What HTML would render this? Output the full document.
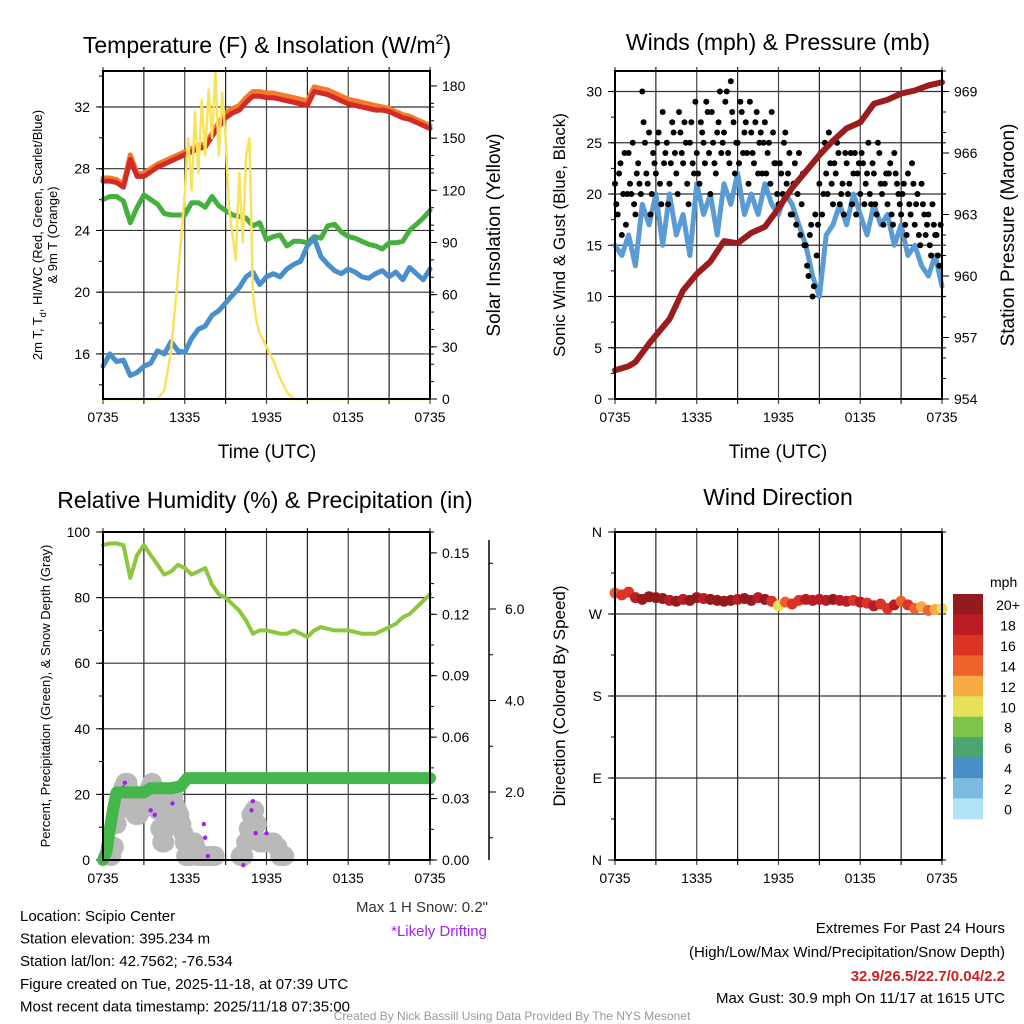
<!DOCTYPE html>
<html><head><meta charset="utf-8"><style>
body{margin:0;background:#fff}
svg{display:block;font-family:"Liberation Sans",sans-serif}
</style></head><body>
<svg id="chart" width="1024" height="1024" viewBox="0 0 1024 1024" xmlns="http://www.w3.org/2000/svg">
<rect width="1024" height="1024" fill="#fff"/>
</svg>
<script>
// ---------------- DATA ----------------
const xTickLabels = ["0735","1335","1935","0135","0735"];
const halfHours = Array.from({length:49},(_,i)=>i/2);
const tempRed = [27.2,27.2,27.1,26.8,28.6,27.5,27.5,27.8,28.1,28.3,28.5,28.7,28.9,29.1,29.3,29.4,30.1,30.7,31.3,31.6,31.8,32.3,32.7,32.7,32.6,32.6,32.5,32.4,32.3,32.2,32.1,33.0,32.9,32.8,32.6,32.4,32.2,32.1,32.0,31.9,31.8,31.8,31.7,31.5,31.3,31.2,31.0,30.8,30.6];
const temp9m  = [27.3,27.3,27.2,26.9,28.8,27.6,27.6,27.9,28.2,28.4,28.6,28.8,29.0,29.2,29.4,29.5,30.2,30.9,31.5,31.8,32.0,32.5,32.9,32.9,32.8,32.8,32.7,32.6,32.5,32.4,32.3,33.2,33.1,33.0,32.8,32.6,32.4,32.3,32.2,32.1,32.0,31.9,31.8,31.6,31.4,31.3,31.1,30.9,30.7];
const dewGreen = [26.0,26.2,26.2,25.9,24.5,25.5,26.3,26.0,25.7,25.1,25.0,25.0,25.0,25.8,25.8,25.5,26.2,25.6,25.3,25.0,24.9,24.8,24.3,24.5,23.4,23.6,23.7,23.0,23.3,23.3,23.2,23.6,23.5,24.3,24.4,23.9,23.6,23.5,23.3,23.1,23.0,22.8,23.2,23.2,23.3,24.0,24.4,24.8,25.3];
const wcBlue = [15.2,16.0,15.5,15.6,14.6,14.8,15.2,15.4,16.2,16.0,16.8,16.2,16.1,17.0,17.6,17.8,18.5,18.8,19.3,19.8,20.3,21.0,21.3,20.5,21.0,21.2,21.0,21.5,21.8,22.0,23.0,23.5,22.3,21.8,21.4,21.2,21.5,21.3,21.0,20.9,21.2,21.4,21.0,21.3,20.8,21.6,21.2,20.8,21.5];
const solarHours = [0,4,4.5,5,5.5,6,6.25,6.5,6.75,7,7.25,7.5,7.75,8,8.25,8.5,8.75,9,9.25,9.5,9.75,10,10.25,10.5,10.75,11,11.25,11.5,12,12.5,13,13.5,14,24];
const solarVals  = [0,0,5,28,70,118,150,120,165,130,172,140,178,150,188,140,176,150,110,95,80,130,90,140,150,60,45,38,30,22,12,4,0,0];
// Panel 2
const windBlue = [15,14,16,13,19,17,20,15,20,16,18,14,21,18,20,16,21,19,22,18,20,18,21,19,18,20,19,17,15,12,10,16,17,19,17,20,18,16,19,17,18,15,17,14,15,13,12,14,11];
const gustVals = [21,18,23,20,17,24,20,19,22,21,30,25,21,18,24,22,26,19,23,25,21,27,24,20,26,23,25,19,27,22,24,21,26,23,28,20,25,22,27,24,26,30,23,28,22,25,29,24,27,21,26,23,28,25,22,27,24,21,26,23,19,22,25,21,24,18,23,20,16,22,15,12,17,11,14,21,18,25,20,23,19,22,24,20,18,23,21,19,24,22,20,23,21,25,19,22,18,24,20,21,19,23,17,22,20,18,21,16,19,23,17,20,15,19,16,18,14,17,16,13];
const gustVals2 = [19,22,16,24,20,21,25,18,23,20,27,22,26,20,23,25,21,28,24,19,23,26,22,28,24,27,21,25,23,29,22,27,25,29,24,28,23,26,30,25,29,24,31,27,25,23,28,26,24,29,24,27,22,26,25,22,25,28,23,20,23,20,26,22,18,21,17,24,19,15,13,16,10,18,17,24,20,22,26,21,23,25,19,21,24,20,24,22,18,23,24,19,22,20,23,19,25,21,17,22,22,18,24,21,19,20,17,22,18,21,19,16,21,18,17,15,19,16,14,17];
const pressHours = [0,1,1.5,2.5,4,5,6,7,8,9,10,11,12,13,14,15,16,17,18,19,20,21,22,23,24];
const pressVals  = [955.4,955.6,955.8,956.7,957.9,959.3,960.1,960.7,961.7,961.6,962.1,962.4,963.3,964.3,965.1,965.9,966.6,967.2,967.5,968.4,968.6,968.9,969.05,969.3,969.45];
// Panel 3
const rhVals = [96,96.5,96.5,96,86,93,96,93,90,87,88,90,89,87,88,89,84,81,80,78,76,73,69,70,70,69.5,69,69,70,69,68,70,71,70.5,70,70,70,69.5,69,69,69,70,71,72,74,75,77,79,81];
const precipHours = [0,0.25,0.5,0.75,1,3,3.5,5,5.7,6.2,24];
const precipVals  = [0,0.004,0.015,0.025,0.033,0.033,0.035,0.035,0.036,0.04,0.04];
const snowHours = [0.6,0.8,1,1.15,1.3,1.5,1.65,1.8,2.0,2.2,2.4,2.6,2.8,3,3.15,3.3,3.45,3.6,3.75,3.9,4.05,4.2,4.35,4.5,4.6,4.7,4.85,5,5.15,5.3,5.45,5.6,5.75,5.9,6.0,6.1,6.25,6.4,6.55,6.7,6.85,7,7.2,7.4,7.6,7.8,8.0,8.2,10.1,10.3,10.5,10.7,10.9,11.1,11.3,11.5,11.8,12,12.3,12.5,12.8,13,13.3];
const snowVals  = [0.6,0.8,1.3,1.6,1.8,2.1,2.2,2.2,2.0,1.7,1.5,1.5,1.6,1.7,1.9,2.0,2.1,2.2,2.1,1.9,1.6,1.2,0.9,0.9,1.2,1.4,1.7,2.0,1.9,1.7,1.6,1.5,1.3,1.1,0.9,0.6,0.6,0.6,0.75,0.9,0.75,0.6,0.6,0.6,0.6,0.6,0.6,0.6,0.6,0.6,0.9,1.2,1.5,1.6,1.3,0.9,0.9,0.9,0.9,0.9,0.8,0.6,0.6];
const driftHours = [1.5,1.6,3.5,3.8,5.1,7.4,7.5,7.7,10.3,10.9,11.0,11.2,12.0];
const driftVals  = [2.1,2.2,1.6,1.5,1.75,1.3,1.0,0.6,0.4,1.6,1.8,1.1,1.1];
// Panel 4
const dirVals = [293,291,294,288,286,289,288,287,285,284,286,285,288,287,286,285,284,285,286,287,285,288,286,284,279,283,281,285,286,285,286,285,286,285,284,285,283,282,279,281,276,280,284,280,276,278,274,275,276];
const dirSpeed = [15,17,16,19,20,21,20,21,19,20,18,20,21,19,20,21,22,20,19,21,20,19,20,17,11,14,16,17,19,18,19,18,20,19,18,17,18,17,19,17,16,18,15,16,14,13,14,12,11];
const cbLabels = ["20+","18","16","14","12","10","8","6","4","2","0"];
const cbColors = ["#931a1d","#bb1c24","#dc3327","#f0622c","#f6ab43","#e6e159","#7ec34a","#4aa56f","#4a90c8","#7cb9e3","#b3e3f8"];

// ---------------- HELPERS ----------------
const svg = document.getElementById('chart');
const NS = "http://www.w3.org/2000/svg";
function el(tag, attrs, parent){const e=document.createElementNS(NS,tag);for(const k in attrs)e.setAttribute(k,attrs[k]);(parent||svg).appendChild(e);return e;}
function txt(s, attrs, parent){const e=el('text',attrs,parent);e.textContent=s;return e;}
function lin(d0,d1,r0,r1){return v=>r0+(v-d0)*(r1-r0)/(d1-d0);}
function speedColor(s){const i=Math.min(10,Math.max(0,Math.floor(s/2)));return cbColors[10-i];}

function panelFrame(p, name){
  const g=el('g',{});
  
  
  p.g=g;
  p.x=lin(0,24,p.x0,p.x1);
  for(let h=0;h<=24;h+=3){
    const X=p.x(h);
    const gl=el('line',{x1:X,y1:p.y0-4,x2:X,y2:p.y1+5,stroke:h%6===0?'#444':'#222','stroke-width':1.2},g);
    
    
  }
  xTickLabels.forEach((l,i)=>{
    const t=txt(l,{x:p.x(i*6),y:p.y1+23,'font-size':14,'text-anchor':'middle',fill:'#000'},g);
    
    
  });
  return g;
}
function hGrid(p, vals, yf){
  vals.forEach(v=>{
    const Y=yf(v);
    const gl=el('line',{x1:p.x0-4,y1:Y,x2:p.x1+4,y2:Y,stroke:'#333','stroke-width':1.2},p.g);
    
    
  });
}
function leftAxis(p, yf, majors, labels, minors){
  minors.forEach(v=>{const t=el('line',{x1:p.x0-4,y1:yf(v),x2:p.x0,y2:yf(v),stroke:'#000','stroke-width':1},p.g);
    
    });
  majors.forEach((v,i)=>{
    const t=el('line',{x1:p.x0-7,y1:yf(v),x2:p.x0,y2:yf(v),stroke:'#000','stroke-width':1},p.g);
    
    
    const l=txt(labels[i],{x:p.x0-13,y:yf(v)+5,'font-size':14,'text-anchor':'end'},p.g);
    
    
  });
}
function rightAxis(p, yf, majors, labels, minors, ax){
  ax=ax||p.x1;
  minors.forEach(v=>{const t=el('line',{x1:ax,y1:yf(v),x2:ax+4,y2:yf(v),stroke:'#000','stroke-width':1},p.g);
    
    });
  majors.forEach((v,i)=>{
    const t=el('line',{x1:ax,y1:yf(v),x2:ax+7,y2:yf(v),stroke:'#000','stroke-width':1},p.g);
    
    
    const l=txt(labels[i],{x:ax+12,y:yf(v)+5,'font-size':14,'text-anchor':'start'},p.g);
    
    
  });
}
function border(p){
  const r=el('rect',{x:p.x0,y:p.y0,width:p.x1-p.x0,height:p.y1-p.y0,fill:'none',stroke:'#000','stroke-width':2},p.g);
  
  
}
function poly(p, xs, ys, yf, color, w, name){
  const pts=xs.map((h,i)=>p.x(h).toFixed(1)+','+yf(ys[i]).toFixed(1)).join(' ');
  const e=el('polyline',{points:pts,fill:'none',stroke:color,'stroke-width':w,'stroke-linejoin':'round','stroke-linecap':'round'},p.g);
  
  
  return e;
}
function range(a,b,s){const r=[];for(let v=a;v<=b+1e-9;v+=s)r.push(+v.toFixed(4));return r;}
function title(s,x,y,size,name,extra){
  const t=txt(s,Object.assign({x:x,y:y,'font-size':size,'text-anchor':'middle'},extra||{}));
  
  
  return t;
}
function vtitle(s,x,y,size,name){
  const t=txt(s,{x:0,y:0,'font-size':size,'text-anchor':'middle',transform:`translate(${x},${y}) rotate(-90)`});
  
  
  return t;
}

// ---------------- PANEL 1 ----------------
const p1={x0:103,x1:430,y0:71,y1:399};
panelFrame(p1,'temperature-panel');
const y1L=lin(13.08,34.33,399,71), y1R=lin(0,188.6,399,71);
hGrid(p1,[16,20,24,28,32],y1L);
leftAxis(p1,y1L,[16,20,24,28,32],["16","20","24","28","32"],range(14,34,2));
rightAxis(p1,y1R,[0,30,60,90,120,150,180],["0","30","60","90","120","150","180"],range(0,180,10));
poly(p1,halfHours,temp9m,v=>y1L(v)-1.5,'#f27a2a',5,'9m-temperature-line');
poly(p1,halfHours,tempRed,y1L,'#d42a25',5,'2m-temperature-line');
poly(p1,halfHours,dewGreen,y1L,'#45b03f',5,'dewpoint-line');
poly(p1,halfHours,wcBlue,y1L,'#4a8fcb',5,'windchill-line');
poly(p1,solarHours,solarVals,y1R,'#f8e45c',2.5,'solar-insolation-line');
border(p1);
const t1=title('',267,53,23,'temperature-panel-title');
t1.innerHTML='Temperature (F) &amp; Insolation (W/m<tspan dy="-9" font-size="14">2</tspan><tspan dy="9">)</tspan>';
title('Time (UTC)',267,458,19,'temperature-x-axis-title');
const vt1=txt('',{x:0,y:0,'font-size':13,'text-anchor':'middle',transform:'translate(42,235) rotate(-90)'});


vt1.innerHTML='2m T, T<tspan dy="4" font-size="9">d</tspan><tspan dy="-4">, HI/WC (Red, Green, Scarlet/Blue)</tspan>';
vtitle('& 9m T (Orange)',57,235,13,'temperature-y-axis-title-line2');
vtitle('Solar Insolation (Yellow)',500,235,19,'solar-y-axis-title');

// ---------------- PANEL 2 ----------------
const p2={x0:615,x1:942,y0:71,y1:399};
panelFrame(p2,'winds-panel');
const y2L=lin(0,32,399,71), y2R=lin(954,970,399,71);
hGrid(p2,[5,10,15,20,25,30],y2L);
leftAxis(p2,y2L,[0,5,10,15,20,25,30],["0","5","10","15","20","25","30"],range(0,32,2.5));
rightAxis(p2,y2R,[954,957,960,963,966,969],["954","957","960","963","966","969"],range(954,970,1));
poly(p2,halfHours,windBlue,y2L,'#5a9bd5',5,'sonic-wind-line');
gustVals.forEach((v,i)=>{
  const c=el('circle',{cx:p2.x(i*0.2),cy:y2L(v),r:3,fill:'#000'},p2.g);
  
  
});
gustVals2.forEach((v,i)=>{
  const c=el('circle',{cx:p2.x(i*0.2+0.1),cy:y2L(v),r:3,fill:'#000'},p2.g);
  
  
});
poly(p2,pressHours,pressVals,y2R,'#9b1c1c',6,'pressure-line');
border(p2);
title('Winds (mph) & Pressure (mb)',778,50,23,'winds-panel-title');
title('Time (UTC)',778,458,19,'winds-x-axis-title');
vtitle('Sonic Wind & Gust (Blue, Black)',565,235,17,'wind-y-axis-title');
vtitle('Station Pressure (Maroon)',1014,235,19,'pressure-y-axis-title');

// ---------------- PANEL 3 ----------------
const p3={x0:103,x1:430,y0:532,y1:860};
panelFrame(p3,'humidity-panel');
const y3L=lin(0,100,860,532), y3R=lin(0,0.1602,860,532), y3S=lin(0,1,883.5,837.75);
hGrid(p3,[0,20,40,60,80,100],y3L);
leftAxis(p3,y3L,[0,20,40,60,80,100],["0","20","40","60","80","100"],range(0,100,10));
rightAxis(p3,y3R,[0,0.03,0.06,0.09,0.12,0.15],["0.00","0.03","0.06","0.09","0.12","0.15"],range(0,0.15,0.015));
const sAx=el('line',{x1:489,y1:540,x2:489,y2:860,stroke:'#000','stroke-width':1.5},p3.g);


[1,3,5,7].forEach(v=>{const t=el('line',{x1:489,y1:y3S(v),x2:493,y2:y3S(v),stroke:'#000'},p3.g);
  
  });
[2,4,6].forEach(v=>{
  const t=el('line',{x1:489,y1:y3S(v),x2:496,y2:y3S(v),stroke:'#000'},p3.g);
  
  
  const l=txt(v.toFixed(1),{x:505,y:y3S(v)+5,'font-size':14},p3.g);
  
  
});
snowHours.forEach((h,i)=>{
  const c=el('circle',{cx:p3.x(h),cy:y3S(snowVals[i]),r:10,fill:'#b9b9b9'},p3.g);
  
  
});
driftHours.forEach((h,i)=>{
  const c=el('circle',{cx:p3.x(h),cy:y3S(driftVals[i]),r:2.2,fill:'#a020f0'},p3.g);
  
  
});
poly(p3,precipHours,precipVals,y3R,'#45b649',12,'precipitation-line');
poly(p3,halfHours,rhVals,y3L,'#8dc63f',4,'relative-humidity-line');
border(p3);
title('Relative Humidity (%) & Precipitation (in)',265,508,23,'humidity-panel-title');
vtitle('Percent, Precipitation (Green), & Snow Depth (Gray)',50,696,13,'humidity-y-axis-title');

// ---------------- PANEL 4 ----------------
const p4={x0:615,x1:942,y0:532,y1:860};
panelFrame(p4,'wind-direction-panel');
const y4=lin(0,360,860,532);
hGrid(p4,[0,90,180,270,360],y4);
leftAxis(p4,y4,[360,270,180,90,0],["N","W","S","E","N"],range(0,360,45));
dirVals.forEach((d,i)=>{
  const c=el('circle',{cx:p4.x(i*0.5),cy:y4(d),r:5.5,fill:speedColor(dirSpeed[i])},p4.g);
  
  
});
border(p4);
title('Wind Direction',778,505,23,'wind-direction-title');
vtitle('Direction (Colored By Speed)',565,696,17,'direction-y-axis-title');
const cb=el('g',{});


const cbTitle=txt('mph',{x:990,y:587,'font-size':14,'text-anchor':'start'},cb);


cbColors.forEach((c,i)=>{
  const r=el('rect',{x:953,y:594+i*20.45,width:30,height:20.9,fill:c},cb);
  
  
  const l=txt(cbLabels[i],{x:1008,y:594+i*20.45+16,'font-size':14,'text-anchor':'middle'},cb);
  
  
});

// ---------------- TEXT BLOCKS ----------------
const info=["Location: Scipio Center","Station elevation: 395.234 m","Station lat/lon: 42.7562; -76.534","Figure created on Tue, 2025-11-18, at 07:39 UTC","Most recent data timestamp: 2025/11/18 07:35:00"];
info.forEach((s,i)=>{
  const t=txt(s,{x:20,y:921+i*22.6,'font-size':15},svg);
  
  
});
const ms=txt('Max 1 H Snow: 0.2"',{x:488,y:912,'font-size':15,'text-anchor':'end',fill:'#333'});


const ld=txt('*Likely Drifting',{x:487,y:936,'font-size':15,'text-anchor':'end',fill:'#a020f0'});


const ext=[["Extremes For Past 24 Hours",'#000','normal',933],["(High/Low/Max Wind/Precipitation/Snow Depth)",'#000','normal',957],["32.9/26.5/22.7/0.04/2.2",'#cc2222','bold',981],["Max Gust: 30.9 mph On 11/17 at 1615 UTC",'#000','normal',1003]];
ext.forEach(e=>{
  const t=txt(e[0],{x:1005,y:e[3],'font-size':15,'text-anchor':'end',fill:e[1],'font-weight':e[2]});
  
  
});
const ft=txt('Created By Nick Bassill Using Data Provided By The NYS Mesonet',{x:512,y:1020,'font-size':12,'text-anchor':'middle',fill:'#999'});


</script>
</body></html>
